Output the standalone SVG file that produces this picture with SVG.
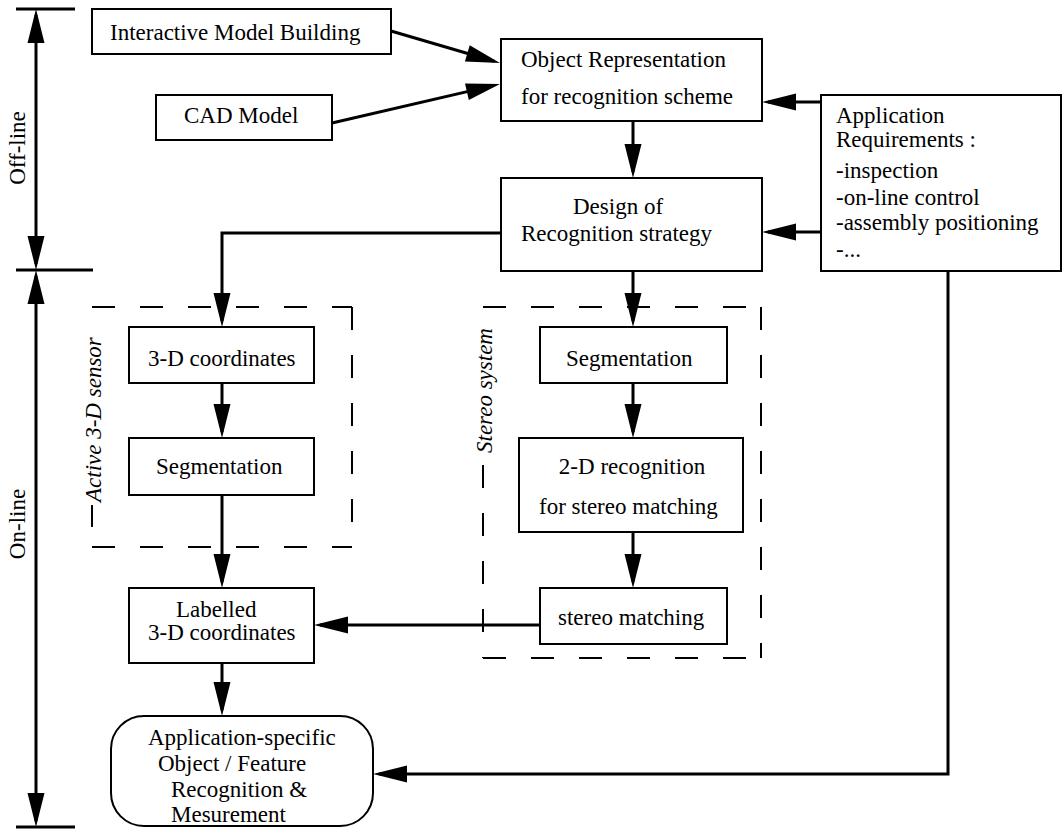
<svg xmlns="http://www.w3.org/2000/svg" width="1063" height="829" viewBox="0 0 1063 829">
<style>
text{font-family:"Liberation Serif","Times New Roman",serif;font-size:23px;fill:#000}
.it{font-style:italic}
.box{fill:#fff;stroke:#000;stroke-width:2}
.con{fill:none;stroke:#000;stroke-width:3}
.dash{fill:none;stroke:#000;stroke-width:2;stroke-dasharray:23 25}
.tick{stroke:#000;stroke-width:3}
</style>
<defs>
<marker id="ah" markerUnits="userSpaceOnUse" markerWidth="36" markerHeight="18" refX="28" refY="8.5" orient="auto-start-reverse" overflow="visible">
<path d="M0,0 L34,8.5 L0,17 z" fill="#000"/>
</marker>
</defs>
<rect width="1063" height="829" fill="#fff"/>

<g id="phases">
<line class="tick" x1="16" y1="9" x2="75" y2="9"/>
<line class="tick" x1="16" y1="270" x2="93" y2="270"/>
<line class="tick" x1="16" y1="827" x2="75" y2="827"/>
<line class="con" x1="36" y1="15" x2="36" y2="264" marker-start="url(#ah)" marker-end="url(#ah)"/>
<line class="con" x1="36" y1="276" x2="36" y2="821" marker-start="url(#ah)" marker-end="url(#ah)"/>
<text transform="translate(25,148) rotate(-90)" text-anchor="middle">Off-line</text>
<text transform="translate(25,524) rotate(-90)" text-anchor="middle">On-line</text>
</g>

<g id="group-active">
<path class="dash" d="M92,307 H352"/>
<path class="dash" d="M352,307 V547"/>
<path class="dash" d="M92,547 H352"/>
<path d="M92,505 V527" stroke="#000" stroke-width="2"/>
<text class="it" transform="translate(101,502) rotate(-90)">Active 3-D sensor</text>
</g>

<g id="group-stereo">
<path class="dash" d="M483,307 H761"/>
<path class="dash" d="M761,307 V658"/>
<path class="dash" d="M483,658 H761"/>
<path class="dash" d="M483,465 V658"/>
<text class="it" transform="translate(492,453) rotate(-90)">Stereo system</text>
</g>

<g id="connectors">
<line class="con" x1="391" y1="31" x2="494.2" y2="61.3" marker-end="url(#ah)"/>
<line class="con" x1="332" y1="123" x2="494.2" y2="85.4" marker-end="url(#ah)"/>
<line class="con" x1="821" y1="102" x2="768" y2="102" marker-end="url(#ah)"/>
<line class="con" x1="821" y1="232" x2="768" y2="232" marker-end="url(#ah)"/>
<line class="con" x1="633" y1="121" x2="633" y2="172" marker-end="url(#ah)"/>
<line class="con" x1="633" y1="271" x2="633" y2="321" marker-end="url(#ah)"/>
<path class="con" d="M501,233 H222 V321" marker-end="url(#ah)"/>
<line class="con" x1="222" y1="383" x2="222" y2="432" marker-end="url(#ah)"/>
<line class="con" x1="222" y1="495" x2="222" y2="582" marker-end="url(#ah)"/>
<line class="con" x1="222" y1="663" x2="222" y2="710" marker-end="url(#ah)"/>
<line class="con" x1="633" y1="383" x2="633" y2="432" marker-end="url(#ah)"/>
<line class="con" x1="633" y1="532" x2="633" y2="582" marker-end="url(#ah)"/>
<line class="con" x1="540" y1="625" x2="320" y2="625" marker-end="url(#ah)"/>
<path class="con" d="M948,271 V774 H379" marker-end="url(#ah)"/>
</g>

<g id="interactive">
<rect class="box" x="92" y="9" width="299" height="45"/>
<text x="110" y="40">Interactive Model Building</text>
</g>
<g id="cad">
<rect class="box" x="156" y="95" width="176" height="45"/>
<text x="184" y="123">CAD Model</text>
</g>
<g id="object-rep">
<rect class="box" x="501" y="39" width="261" height="82"/>
<text x="521" y="67">Object Representation</text>
<text x="521" y="104">for recognition scheme</text>
</g>
<g id="design">
<rect class="box" x="501" y="178" width="261" height="93"/>
<text x="573" y="214">Design of</text>
<text x="521" y="241">Recognition strategy</text>
</g>
<g id="app-req">
<rect class="box" x="821" y="95" width="240" height="176"/>
<text x="836" y="123">Application</text>
<text x="836" y="147">Requirements :</text>
<text x="836" y="178">-inspection</text>
<text x="836" y="205">-on-line control</text>
<text x="836" y="230">-assembly positioning</text>
<text x="836" y="257">-...</text>
</g>
<g id="coords3d">
<rect class="box" x="129" y="327" width="185" height="56"/>
<text x="148" y="366">3-D coordinates</text>
</g>
<g id="seg-active">
<rect class="box" x="129" y="438" width="185" height="57"/>
<text x="156" y="474">Segmentation</text>
</g>
<g id="seg-stereo">
<rect class="box" x="540" y="327" width="187" height="56"/>
<text x="566" y="366">Segmentation</text>
</g>
<g id="recog2d">
<rect class="box" x="519" y="438" width="224" height="94"/>
<text x="632" y="474" text-anchor="middle">2-D recognition</text>
<text x="539" y="514">for stereo matching</text>
</g>
<g id="stereo-matching">
<rect class="box" x="540" y="588" width="187" height="56"/>
<text x="558" y="625">stereo matching</text>
</g>
<g id="labelled">
<rect class="box" x="129" y="588" width="185" height="75"/>
<text x="176" y="617">Labelled</text>
<text x="148" y="640">3-D coordinates</text>
</g>
<g id="app-specific">
<rect class="box" x="111" y="716" width="262" height="110" rx="33" ry="33"/>
<text x="148" y="745">Application-specific</text>
<text x="158" y="771">Object / Feature</text>
<text x="171" y="797">Recognition &amp;</text>
<text x="171" y="822">Mesurement</text>
</g>
</svg>
